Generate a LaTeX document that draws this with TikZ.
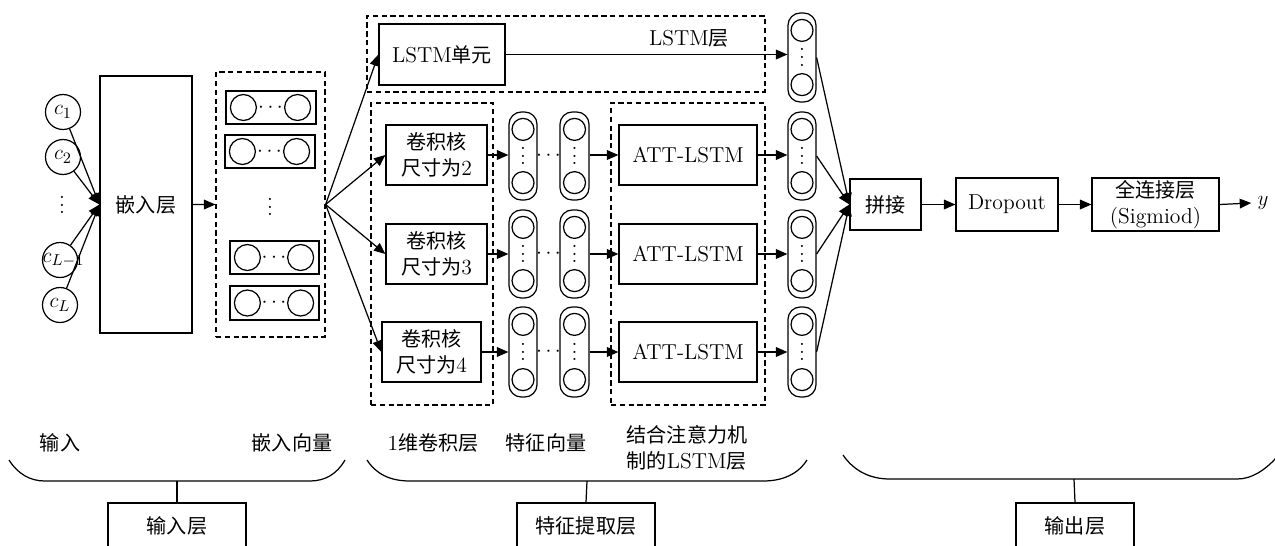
\documentclass[tikz,border=0pt]{standalone}
\usepackage{fontspec}
\newfontfamily\cjk[Scale=0.93]{Noto Sans CJK SC}
\newcommand\vdd{\vbox{\baselineskip4.5pt \lineskiplimit0pt \hbox{.}\hbox{.}\hbox{.}}}
\usetikzlibrary{arrows.meta,fit,calc}
\begin{document}
\begin{tikzpicture}[x=0.02cm,y=-0.02cm,line width=0.7pt,
  font=\fontsize{12.3}{14.5}\selectfont,
  box/.style={draw,inner sep=0pt,align=center},
  dbox/.style={draw,dash pattern=on 3pt off 2pt,inner sep=0pt},
  capsule/.style={draw,rounded corners=7pt,inner sep=0pt},
  sc/.style={circle,draw,minimum size=0.44cm,inner sep=0pt},
  ec/.style={circle,draw,minimum size=0.52cm,inner sep=0pt},
  cn/.style={circle,draw,minimum size=0.7cm,inner sep=0pt},
  vd/.style={inner sep=0pt},
  arr/.style={-{Triangle[length=6.5pt,width=5.5pt]}},
  lbl/.style={align=left}]
\clip (0,0) rectangle (1275,545);
% ---------- input circles
\node[cn] (c1) at (63,112) {\makebox[0pt]{$c_1$}};
\node[cn] (c2) at (63,157) {\makebox[0pt]{$c_2$}};
\node[vd] (cd) at (62,205) {\vdd};
\node[cn] (cL1) at (60,260) {\makebox[0pt]{\hspace{4pt}$c_{L-1}$}};
\node[cn] (cL) at (60,305) {\makebox[0pt]{$c_L$}};
% ---------- embedding layer
\node[box,minimum width=1.84cm,minimum height=5.14cm] (emb) at (146,204.5) {{\cjk 嵌入层}};
\foreach \c in {c1,c2,cL1,cL} \draw[arr] (\c) -- (emb.west);
% ---------- embedding vectors
\node[dbox,fit={(216,72)(325,337)}] (embbox) {};
\foreach \i/\xa/\xb/\ya/\yb in {1/226/316/91/124,2/225/315/135/168,3/230/319/241/274,4/230/319/286/320}{
  \node[box,fit={(\xa,\ya)(\xb,\yb)}] (r\i) {};
  \node[ec] (r\i a) at ([xshift=0.36cm]r\i.west) {};
  \node[ec] (r\i b) at ([xshift=-0.38cm]r\i.east) {};
  \node[inner sep=0pt] (r\i d) at ($(r\i a.east)!0.5!(r\i b.west)$) {$\cdots$};
}
\node[vd] (evd) at (270,207) {\vdd};
\draw[arr] (emb.east) -- (embbox.west);
% ---------- LSTM branch
\node[dbox,fit={(367,16)(765,92)}] (lstmbox) {};
\node (lstmlbl) at (689,38) {LSTM{\cjk 层}};
\node[box,minimum width=2.52cm,minimum height=1.22cm] (lstm) at (442,54.5) {LSTM{\cjk 单元}};
\node[capsule,fit={(788,13)(816,102)}] (o0) {};
\node[sc] (o0t) at ([yshift=-0.36cm]o0.north) {};
\node[sc] (o0b) at ([yshift=0.36cm]o0.south) {};
\node[vd] (o0d) at (o0.center) {\vdd};
\draw[arr] (lstm.east) -- (lstm.east -| o0.west);
\draw[arr] (embbox.east) -- (lstm.west);
% ---------- conv + att branches
\node[dbox,fit={(371,103)(493,405)}] (convbox) {};
\node[dbox,fit={(611,103)(765,405)}] (attbox) {};
\foreach \i/\k/\xc/\wc/\yc/\ca/\cb in {1/2/436.5/2.02/155/112/200,2/3/436.5/2.02/254/210/298,3/4/431.5/1.98/352/307/397}{
  \node[box,minimum width=\wc cm,minimum height=1.2cm] (conv\i) at (\xc,\yc) {{\cjk 卷积核}\\{\cjk 尺寸为}\k};
  \node[box,minimum width=2.76cm,minimum height=1.2cm] (att\i) at (688,\yc) {ATT-LSTM};
  \node[capsule,fit={(509,\ca)(537,\cb)}] (fa\i) {};
  \node[capsule,fit={(560,\ca)(589,\cb)}] (fb\i) {};
  \node[capsule,fit={(788,\ca)(816,\cb)}] (o\i) {};
  \foreach \c in {fa\i,fb\i,o\i}{
    \node[sc] (\c t) at ([yshift=-0.36cm]\c.north) {};
    \node[sc] (\c b) at ([yshift=0.36cm]\c.south) {};
    \node[vd] (\c d) at (\c.center) {\vdd};
  }
  \node[inner sep=0pt] (fd\i) at ($(fa\i.east)!0.5!(fb\i.west)$) {$\cdots$};
  \draw[arr] (embbox.east) -- (conv\i.west);
  \draw[arr] (conv\i.east) -- (conv\i.east -| fa\i.west);
  \draw[arr] (fb\i.east |- att\i.west) -- (att\i.west);
  \draw[arr] (att\i.east) -- (att\i.east -| o\i.west);
}
% ---------- output part
\node[box,minimum width=1.42cm,minimum height=1.02cm] (cat) at (885.5,204.5) {{\cjk 拼接}};
\foreach \i in {0,1,2,3} \draw[arr] (o\i.east) -- (cat.west);
\node[box,minimum width=2.04cm,minimum height=1.06cm] (drop) at (1007,204.5) {Dropout};
\node[box,minimum width=2.54cm,minimum height=1.06cm] (fc) at (1155.5,204.5) {{\cjk 全连接层}\\(Sigmiod)};
\node (yout) at (1263,203) {$y$};
\draw[arr] (cat) -- (drop);
\draw[arr] (drop) -- (fc);
\draw[arr] (fc.east) -- (yout.west);
% ---------- bottom labels
\node (t1) at (60,443) {{\cjk 输入}};
\node (t2) at (292,443) {{\cjk 嵌入向量}};
\node (t3) at (433,443) {1{\cjk 维卷积层}};
\node (t4) at (546,443) {{\cjk 特征向量}};
\node[lbl] (t5) at (687,448) {{\cjk 结合注意力机}\\{\cjk 制的}LSTM{\cjk 层}};
% braces
\draw (9,460) .. controls (18,474) and (30,481) .. (45,481) -- (310,481) .. controls (325,481) and (337,474) .. (345,460);
\draw (367,460) .. controls (376,474) and (390,481) .. (410,481) -- (763,481) .. controls (783,481) and (798,474) .. (807,460);
\draw (843,455) .. controls (854,471) and (870,479) .. (890,479) -- (1237,479) .. controls (1252,479) and (1265,470) .. (1276,458);
\coordinate (s1) at (177,481);
\coordinate (s2) at (587,481);
\coordinate (s3) at (1074,479);
\node[box,minimum width=2.76cm,minimum height=0.9cm] (inl) at (177,525.5) {{\cjk 输入层}};
\node[box,minimum width=2.76cm,minimum height=0.9cm] (fel) at (586,525.5) {{\cjk 特征提取层}};
\node[box,minimum width=2.36cm,minimum height=0.9cm] (outl) at (1075,525.5) {{\cjk 输出层}};
\draw (s1) -- (inl.north);
\draw (s2) -- (fel.north);
\draw (s3) -- (outl.north);
\end{tikzpicture}
\end{document}
